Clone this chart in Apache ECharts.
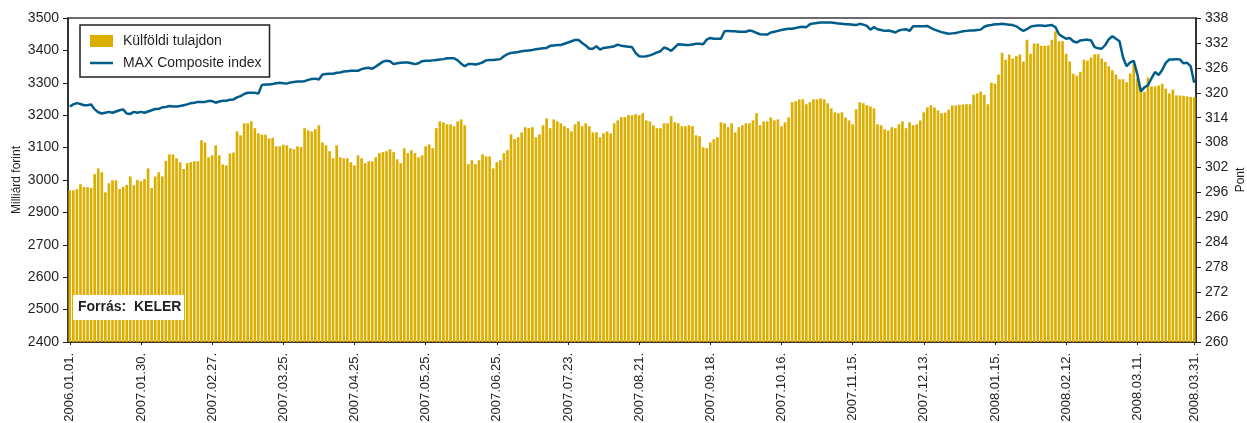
<!DOCTYPE html>
<html>
<head>
<meta charset="utf-8">
<script src="https://cdn.jsdelivr.net/npm/echarts@6/dist/echarts.min.js"></script>
<style>
    html, body { margin: 0; padding: 0; background: #fff; }
    #chart { width: 1247px; height: 423px; }
</style>
</head>
<body>
<div id="chart"></div>
<script>
// x axis: labelled trading days (index into the daily series)
var dateLabels = ['2006.01.01.', '2007.01.30.', '2007.02.27.', '2007.03.25.', '2007.04.25.', '2007.05.25.',
    '2007.06.25.', '2007.07.23.', '2007.08.21.', '2007.09.18.', '2007.10.16.', '2007.11.15.', '2007.12.13.',
    '2008.01.15.', '2008.02.12.', '2008.03.11.', '2008.03.31.'];
var dateIndex = [0, 20, 40, 60, 80, 100, 120, 140, 160, 180, 200, 220, 240, 260, 280, 300, 316];

// left axis tick labels as printed (the original skips 2800)
var leftTickLabels = ['2400', '2500', '2600', '2700', '2900', '3000', '3100', '3200', '3300', '3400', '3500'];

// Külföldi tulajdon, milliárd forint (daily)
var foreignHoldings = [
    2968, 2968, 2972, 2987, 2978, 2978, 2975, 3018, 3036, 3024, 2962, 2990, 2999, 2999, 2972, 2979, 2985, 3011, 2984, 3000,
    2996, 3003, 3036, 2975, 3011, 3024, 3011, 3059, 3079, 3079, 3067, 3055, 3034, 3052, 3055, 3058, 3058, 3123, 3116, 3070,
    3076, 3107, 3076, 3048, 3045, 3082, 3085, 3150, 3138, 3175, 3175, 3181, 3160, 3144, 3140, 3140, 3128, 3130, 3104, 3104,
    3109, 3107, 3098, 3095, 3104, 3102, 3160, 3153, 3150, 3157, 3169, 3116, 3107, 3089, 3067, 3107, 3070, 3067, 3067, 3055,
    3045, 3076, 3067, 3052, 3058, 3058, 3070, 3083, 3086, 3089, 3095, 3086, 3064, 3052, 3098, 3083, 3092, 3083, 3070, 3076,
    3104, 3110, 3098, 3160, 3181, 3178, 3172, 3172, 3166, 3181, 3187, 3169, 3049, 3061, 3049, 3061, 3079, 3073, 3073, 3036,
    3055, 3061, 3083, 3092, 3141, 3126, 3132, 3147, 3163, 3160, 3163, 3132, 3141, 3169, 3190, 3160, 3187, 3181, 3175, 3166,
    3160, 3150, 3172, 3181, 3166, 3175, 3166, 3147, 3147, 3132, 3144, 3150, 3144, 3175, 3184, 3194, 3194, 3200, 3200, 3203,
    3200, 3206, 3184, 3181, 3169, 3160, 3160, 3175, 3175, 3197, 3178, 3175, 3166, 3166, 3169, 3166, 3138, 3135, 3101, 3098,
    3116, 3126, 3132, 3178, 3175, 3163, 3175, 3147, 3163, 3169, 3175, 3175, 3184, 3206, 3169, 3181, 3181, 3193, 3184, 3187,
    3166, 3178, 3193, 3240, 3243, 3249, 3249, 3234, 3240, 3249, 3249, 3252, 3249, 3237, 3221, 3209, 3206, 3209, 3193, 3184,
    3172, 3218, 3240, 3237, 3231, 3227, 3221, 3172, 3169, 3156, 3153, 3163, 3160, 3172, 3181, 3160, 3178, 3169, 3172, 3184,
    3209, 3224, 3231, 3224, 3215, 3206, 3208, 3217, 3230, 3230, 3232, 3233, 3234, 3234, 3263, 3267, 3273, 3263, 3234, 3300,
    3297, 3326, 3393, 3371, 3387, 3375, 3382, 3387, 3366, 3433, 3390, 3421, 3421, 3414, 3414, 3415, 3433, 3459, 3428, 3428,
    3390, 3366, 3328, 3322, 3334, 3371, 3368, 3378, 3388, 3388, 3375, 3364, 3351, 3339, 3326, 3311, 3311, 3302, 3329, 3357,
    3313, 3285, 3272, 3316, 3289, 3289, 3292, 3297, 3282, 3267, 3279, 3261, 3261, 3260, 3258, 3256, 3256
];

// MAX Composite index, pont (daily)
var maxComposite = [
    316.7, 317.2, 317.5, 317.3, 317.0, 317.0, 317.2, 316.0, 315.3, 315.0, 315.2, 315.4, 315.2, 315.5, 315.8, 316.0, 315.0, 314.9, 315.4, 315.2,
    315.4, 315.2, 315.5, 315.8, 316.1, 316.1, 316.5, 316.6, 316.8, 316.7, 316.7, 316.8, 317.0, 317.2, 317.5, 317.6, 317.8, 317.8, 317.8, 318.0,
    318.0, 317.6, 317.9, 318.1, 318.1, 318.3, 318.4, 318.9, 319.2, 319.7, 320.0, 320.0, 320.0, 319.8, 321.9, 322.0, 322.0, 322.1, 322.3, 322.4,
    322.3, 322.2, 322.5, 322.6, 322.7, 322.7, 322.8, 323.1, 323.3, 323.4, 323.2, 324.4, 324.5, 324.6, 324.6, 324.8, 324.9, 325.1, 325.2, 325.3,
    325.3, 325.3, 325.7, 325.9, 326.0, 325.8, 326.3, 326.9, 327.5, 327.7, 327.6, 326.9, 327.1, 327.2, 327.3, 327.3, 327.1, 326.9, 327.1, 327.6,
    327.7, 327.7, 327.8, 327.9, 328.0, 328.1, 328.3, 328.3, 328.3, 327.8, 327.0, 326.4, 326.9, 326.9, 326.8, 327.0, 327.3, 327.8, 327.9, 327.9,
    328.0, 328.1, 328.8, 329.3, 329.6, 329.7, 329.8, 330.0, 330.1, 330.2, 330.3, 330.5, 330.6, 330.7, 330.8, 331.3, 331.4, 331.5, 331.5, 331.8,
    332.1, 332.4, 332.7, 332.7, 332.0, 331.4, 330.6, 330.6, 331.2, 330.4, 330.8, 330.9, 331.0, 331.2, 331.6, 331.3, 331.2, 331.1, 331.0, 329.6,
    328.8, 328.7, 328.8, 329.0, 329.3, 329.7, 330.0, 330.9, 330.6, 330.1, 330.9, 331.7, 331.6, 331.5, 331.5, 331.6, 331.8, 331.8, 331.7, 332.8,
    333.2, 333.0, 333.0, 333.0, 334.8, 334.9, 334.8, 334.8, 334.7, 334.7, 334.7, 335.0, 334.8, 334.4, 334.1, 334.0, 334.0, 334.5, 334.7, 334.9,
    335.1, 335.3, 335.4, 335.4, 335.6, 335.8, 335.9, 335.8, 336.5, 336.7, 336.8, 336.9, 336.9, 336.9, 336.9, 336.8, 336.7, 336.6, 336.5, 336.5,
    336.4, 336.3, 336.6, 336.4, 336.1, 335.2, 335.8, 335.3, 335.1, 334.9, 335.0, 334.8, 334.5, 335.0, 335.2, 335.3, 334.9, 336.0, 336.0, 336.0,
    336.0, 336.1, 335.6, 335.2, 334.9, 334.6, 334.4, 334.2, 334.3, 334.4, 334.6, 334.8, 334.9, 335.0, 335.0, 335.1, 335.2, 335.9, 336.2, 336.3,
    336.5, 336.5, 336.6, 336.5, 336.4, 336.3, 336.0, 335.4, 334.9, 335.3, 335.9, 336.1, 336.2, 336.2, 336.1, 336.2, 336.3, 335.8, 334.1, 333.5,
    333.0, 333.2, 332.4, 332.1, 332.6, 332.7, 332.8, 332.6, 331.0, 330.7, 330.6, 331.5, 332.9, 333.6, 333.0, 332.4, 328.5, 326.4, 327.3, 327.7,
    324.5, 320.3, 321.3, 321.8, 323.5, 325.0, 324.3, 325.5, 327.2, 328.0, 328.0, 328.1, 328.0, 327.1, 327.2, 326.4, 322.4
];

var FONT = '"Liberation Sans", Arial, sans-serif';
var TEXT = '#231f20';
var BAR_COLOR = '#dcae00';
var LINE_COLOR = '#005d8b';

var days = [];
for (var i = 0; i < foreignHoldings.length; i++) {
    days.push(String(i + 1));
}

function isLabelled(index) {
    return dateIndex.indexOf(index) >= 0;
}

var chart = echarts.init(document.getElementById('chart'));

chart.setOption({
    animation: false,
    backgroundColor: '#fff',
    textStyle: { fontFamily: FONT, color: TEXT },
    grid: {
        left: 68, right: 51, top: 18, bottom: 81,
        outerBoundsMode: 'none',
        containLabel: false,
        show: true, borderColor: '#6b6b6b', borderWidth: 2, backgroundColor: 'transparent'
    },
    legend: {
        orient: 'vertical',
        left: 80, top: 25,
        padding: [9, 8, 7, 10],
        itemGap: 8,
        itemWidth: 23, itemHeight: 12,
        backgroundColor: '#fff',
        borderColor: '#231f20', borderWidth: 1.5,
        textStyle: { fontFamily: FONT, fontSize: 14, color: TEXT, padding: [0, 0, 0, 5] },
        data: [
            { name: 'Külföldi tulajdon', icon: 'rect' },
            // a bare line swatch: the extra moveTo points keep the 23x12 box
            { name: 'MAX Composite index', icon: 'path://M0,0 M23,12 M0,4.75 L23,4.75 L23,7.25 L0,7.25 Z' }
        ]
    },
    xAxis: {
        type: 'category',
        data: days,
        boundaryGap: true,
        axisLine: { lineStyle: { color: '#231f20', width: 1.5 } },
        axisTick: { show: true, length: 3, interval: isLabelled, alignWithLabel: true, lineStyle: { color: '#231f20' } },
        axisLabel: {
            interval: isLabelled,
            rotate: 90,
            margin: 11,
            fontSize: 13,
            color: TEXT,
            fontFamily: FONT,
            formatter: function (value, index) {
                var k = dateIndex.indexOf(index);
                return k >= 0 ? dateLabels[k] : '';
            }
        },
        splitLine: { show: false }
    },
    yAxis: [{
        type: 'value',
        position: 'left',
        min: 2500, max: 3500, interval: 100,
        name: 'Milliárd forint',
        nameLocation: 'middle',
        nameRotate: 90,
        nameGap: 45,
        nameMoveOverlap: false,
        nameTextStyle: { fontSize: 12, color: TEXT, fontFamily: FONT },
        axisLine: { show: true, lineStyle: { color: '#231f20', width: 1.5 } },
        axisTick: { show: true, length: 5, lineStyle: { color: '#231f20' } },
        axisLabel: {
            fontSize: 14, color: TEXT, margin: 9, fontFamily: FONT,
            formatter: function (v) { return leftTickLabels[Math.round((v - 2500) / 100)]; }
        },
        splitLine: { show: false }
    }, {
        type: 'value',
        position: 'right',
        min: 260, max: 338, interval: 6,
        name: 'Pont',
        nameLocation: 'middle',
        nameRotate: 90,
        nameGap: 39,
        nameMoveOverlap: false,
        nameTextStyle: { fontSize: 12, color: TEXT, fontFamily: FONT },
        axisLine: { show: true, lineStyle: { color: '#231f20', width: 1.5 } },
        axisTick: { show: true, length: 5, lineStyle: { color: '#231f20' } },
        axisLabel: { fontSize: 14, color: TEXT, margin: 9, fontFamily: FONT },
        splitLine: { show: false }
    }],
    graphic: [{
        type: 'group',
        left: 73, top: 295,
        z: 100,
        children: [{
            type: 'rect',
            shape: { x: 0, y: 0, width: 111, height: 25 },
            style: { fill: '#fff' },
            z: 100
        }, {
            type: 'text',
            x: 5, y: 12.5,
            z: 101,
            style: {
                text: 'Forrás:  KELER',
                fill: TEXT,
                font: 'bold 14px ' + FONT,
                verticalAlign: 'middle'
            }
        }]
    }],
    series: [{
        name: 'Külföldi tulajdon',
        type: 'bar',
        yAxisIndex: 0,
        data: foreignHoldings,
        barCategoryGap: '25%',
        itemStyle: { color: BAR_COLOR },
        z: 2
    }, {
        name: 'MAX Composite index',
        type: 'line',
        yAxisIndex: 1,
        data: maxComposite,
        symbol: 'none',
        lineStyle: { color: LINE_COLOR, width: 2.5 },
        itemStyle: { color: LINE_COLOR },
        z: 3
    }]
});
</script>
</body>
</html>
